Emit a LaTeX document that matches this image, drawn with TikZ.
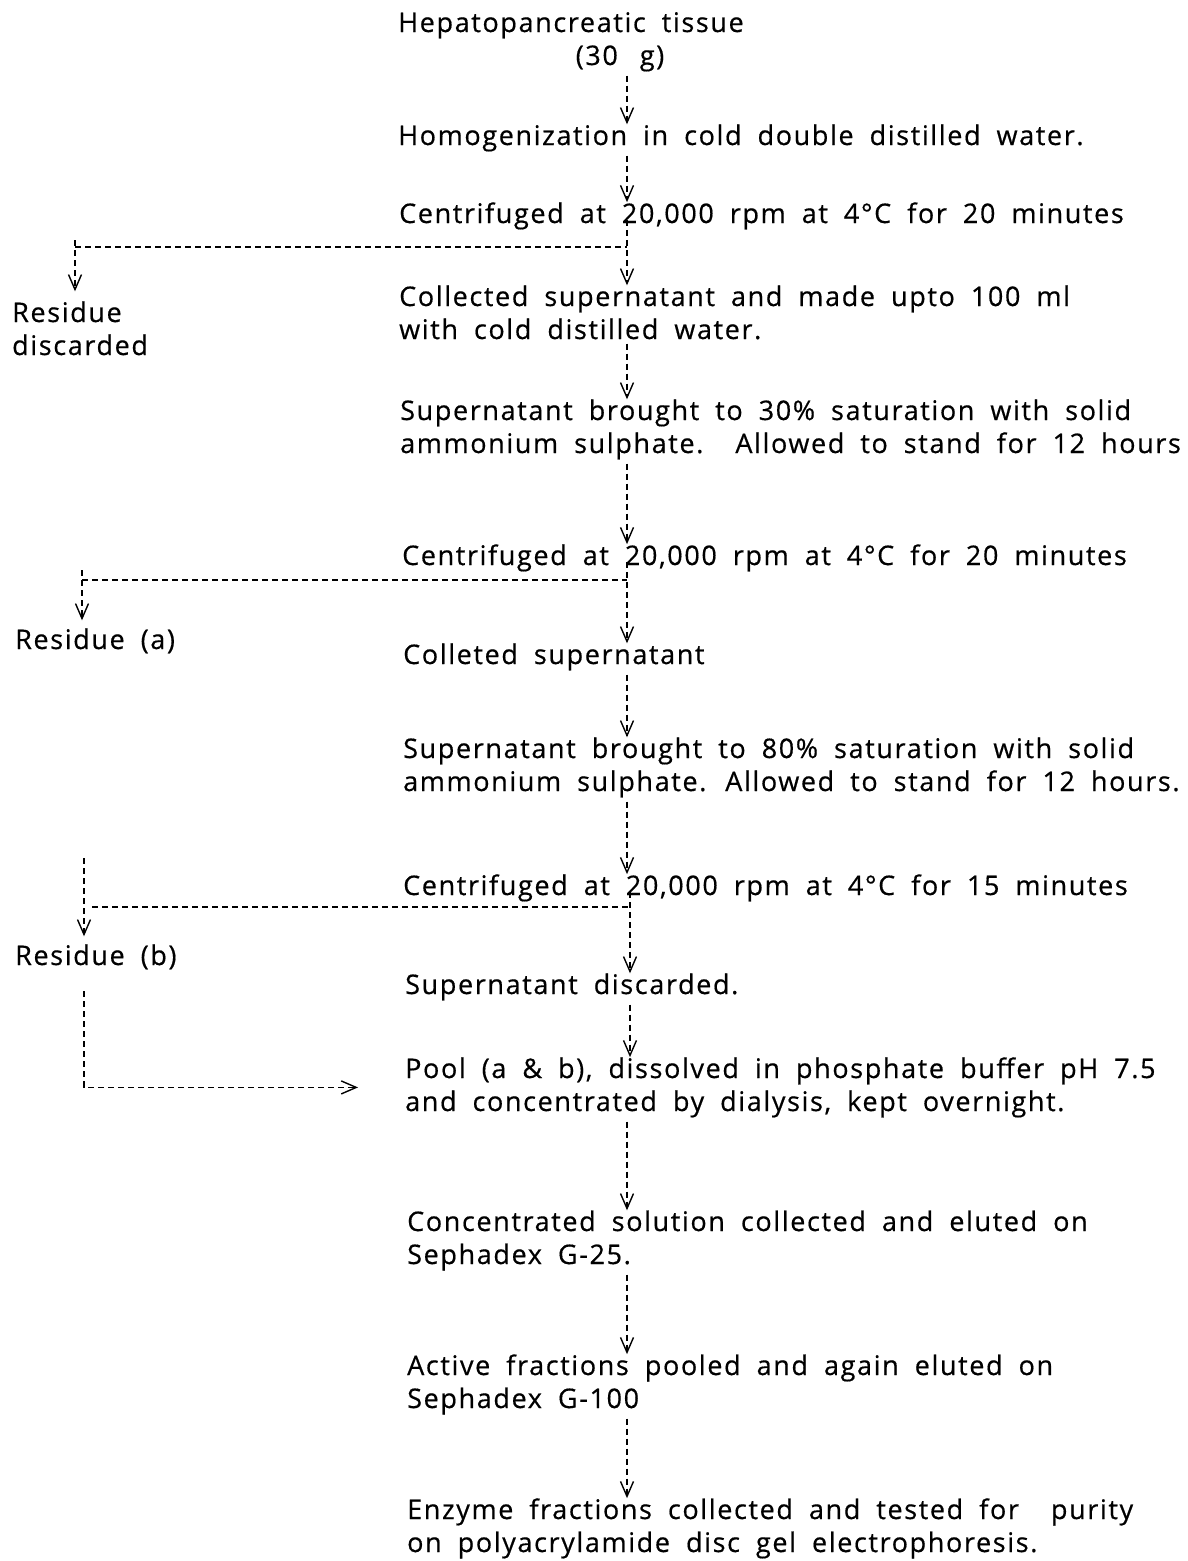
\documentclass[tikz,border=0pt]{standalone}
\usepackage{fontspec}
\usepackage{tikz}
\usetikzlibrary{arrows.meta,calc}
\newfontfamily\flowfont[LetterSpace=6, FakeBold=0.5]{Open Sans}
\newcommand{\flowtext}{\flowfont\fontsize{27}{33}\selectfont\spaceskip=16pt plus 2pt\relax}
\tikzset{
  stepbox/.style={anchor=base west, inner sep=0pt, align=left, font=\flowtext},
  dline/.style={line width=1.5pt, dash pattern=on 6pt off 4pt},
  flow/.style={dline, shorten <=4pt,
               -{Straight Barb[length=15pt, width=13pt, line width=1.4pt]}},
}

\begin{document}
\begin{tikzpicture}[x=1pt, y=-1pt]
  \useasboundingbox (0,0) rectangle (1188,1561);

  % ---- main column (base = baseline of the last line) -------------------
  \node[stepbox] (tissue) at (398,32)   {Hepatopancreatic tissue};
  \node[stepbox, anchor=base] (mass) at (620,65) {(30\hspace{6pt} g)};
  \node[stepbox] (homog)  at (398,145)  {Homogenization in cold double distilled water.};
  \node[stepbox] (cent1)  at (399,223)  {Centrifuged at 20,000 rpm at 4°C for 20 minutes};
  \node[stepbox] (coll)   at (399,339)  {Collected supernatant and made upto 100 ml\\with cold distilled water.};
  \node[stepbox] (sat1)   at (400,453)  {Supernatant brought to 30\% saturation with solid\\ammonium sulphate.\ \ Allowed to stand for 12 hours};
  \node[stepbox] (cent2)  at (402,565)  {Centrifuged at 20,000 rpm at 4°C for 20 minutes};
  \node[stepbox] (coll2)  at (403,664)  {Colleted supernatant};
  \node[stepbox] (sat2)   at (403,791)  {Supernatant brought to 80\% saturation with solid\\ammonium sulphate. Allowed to stand for 12 hours.};
  \node[stepbox] (cent3)  at (403,895)  {Centrifuged at 20,000 rpm at 4°C for 15 minutes};
  \node[stepbox] (disc)   at (405,994)  {Supernatant discarded.};
  \node[stepbox] (pool)   at (405,1111) {Pool (a \& b), dissolved in phosphate buffer pH 7.5\\and concentrated by dialysis, kept overnight.};
  \node[stepbox] (conc)   at (407,1264) {Concentrated solution collected and eluted on\\Sephadex G-25.};
  \node[stepbox] (act)    at (407,1408) {Active fractions pooled and again eluted on\\Sephadex G-100};
  \node[stepbox] (enz)    at (407,1552) {Enzyme fractions collected and tested for\ \ purity\\on polyacrylamide disc gel electrophoresis.};

  % ---- residues on the left ---------------------------------------------
  \node[stepbox] (resd) at (12,355) {Residue\\discarded};
  \node[stepbox] (resa) at (15,649) {Residue (a)};
  \node[stepbox] (resb) at (15,965) {Residue (b)};

  % branch points
  \coordinate (spine) at (627,0);
  \coordinate (br1) at (627,247);
  \coordinate (br2) at (627,580);
  \coordinate (br3) at (630,907);
  \coordinate (k1) at (75,240);
  \coordinate (k2) at (82,570);
  \coordinate (k3) at (84,858);

  % ---- arrows down the spine --------------------------------------------
  \draw[flow] (mass.south -| spine)  -- (homog.north -| spine);
  \draw[flow] (homog.south -| spine) -- (cent1.north -| spine);
  \draw[flow] (cent1.center -| spine) -- (coll.north -| spine);
  \draw[flow] (coll.south -| spine)  -- (sat1.north -| spine);
  \draw[flow] (sat1.south -| spine)  -- (cent2.north -| spine);
  \draw[flow] (cent2.center -| spine) -- (coll2.north -| spine);
  \draw[flow] (coll2.south -| spine) -- (sat2.north -| spine);
  \draw[flow] (sat2.south -| spine)  -- (cent3.north -| spine);
  \draw[flow] (cent3.center -| br3)  -- (disc.north -| br3);
  \draw[flow] (disc.south -| br3)    -- (pool.north -| br3);
  \draw[flow] (pool.south -| spine)  -- (conc.north -| spine);
  \draw[flow] (conc.south -| spine)  -- (act.north -| spine);
  \draw[flow] (act.south -| spine)   -- (enz.north -| spine);

  % ---- side branches ----------------------------------------------------
  \draw[dline] (k1 |- br1) -- (br1);
  \draw[flow, shorten <=0pt, shorten >=10pt] (k1) -- (resd.north -| k1);
  \draw[dline] (k2 |- br2) -- (br2);
  \draw[flow, shorten <=0pt, shorten >=8pt]  (k2) -- (resa.north -| k2);
  \draw[dline] ([xshift=8pt]k3 |- br3) -- (br3);
  \draw[flow, shorten <=0pt, shorten >=8pt]  (k3) -- (resb.north -| k3);
  \draw[flow, shorten <=22pt] (resb.south -| k3) |- ([xshift=-47pt]pool.west);
\end{tikzpicture}
\end{document}
